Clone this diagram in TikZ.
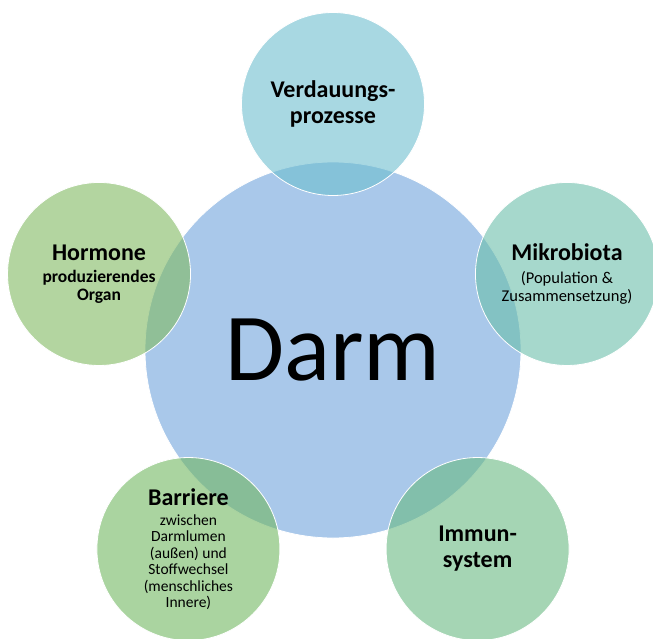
\documentclass[tikz,border=0pt]{standalone}
\usepackage{fontspec}
\setmainfont{Carlito}
\usepackage{tikz}

\definecolor{darmblue}{RGB}{169,200,234}
\definecolor{verdblue}{RGB}{110,190,207}
\definecolor{mikroteal}{RGB}{107,190,170}
\definecolor{immungreen}{RGB}{105,185,130}
\definecolor{barrgreen}{RGB}{113,183,97}
\definecolor{hormgreen}{RGB}{128,185,97}

\newcommand{\bigline}[1]{{\fontsize{24}{28}\selectfont\bfseries #1}}
\newcommand{\smallline}[2][15.5]{{\fontsize{#1}{18}\selectfont #2}}

\tikzset{
  hub/.style={circle, draw=white, line width=0.8pt, fill=darmblue,
    minimum size=376pt, inner sep=0pt, font=\fontsize{96}{110}\selectfont},
  sat/.style={circle, draw=white, line width=0.8pt, fill opacity=0.6,
    text opacity=1, minimum size=183pt, inner sep=0pt, align=center,
    font=\fontsize{24}{26}\selectfont\bfseries},
}

\begin{document}
\begin{tikzpicture}

  \useasboundingbox (-333pt,-288pt) rectangle (320pt,350pt);

  % Define nodes
  \node[hub] (darm) at (0,0) {Darm};
  \node[sat, fill=verdblue] (verdauung) at (90:246pt) {Verdauungs-\\prozesse};
  \node[sat, fill=mikroteal] (mikrobiota) at (18:246pt)
    {\bigline{Mikrobiota}\\[-3pt]\smallline[16.5]{\mdseries(Population \&}\\[-8pt]
     \smallline[16.5]{\mdseries Zusammensetzung)}};
  \node[sat, fill=immungreen] (immun) at (306:246pt) {Immun-\\system};
  \node[sat, fill=barrgreen] (barriere) at (234:246pt)
    {\bigline{Barriere}\\[-6pt]\smallline{\mdseries zwischen}\\[-9.5pt]\smallline{\mdseries Darmlumen}\\[-9.5pt]
     \smallline{\mdseries(außen) und}\\[-9.5pt]\smallline{\mdseries Stoffwechsel}\\[-9.5pt]
     \smallline{\mdseries(menschliches}\\[-9.5pt]\smallline{\mdseries Innere)}};
  \node[sat, fill=hormgreen] (hormone) at (162:246pt)
    {\bigline{Hormone}\\[-4pt]\smallline[17.5]{produzierendes}\\[-8pt]\smallline[17.5]{Organ}};

\end{tikzpicture}
\end{document}
